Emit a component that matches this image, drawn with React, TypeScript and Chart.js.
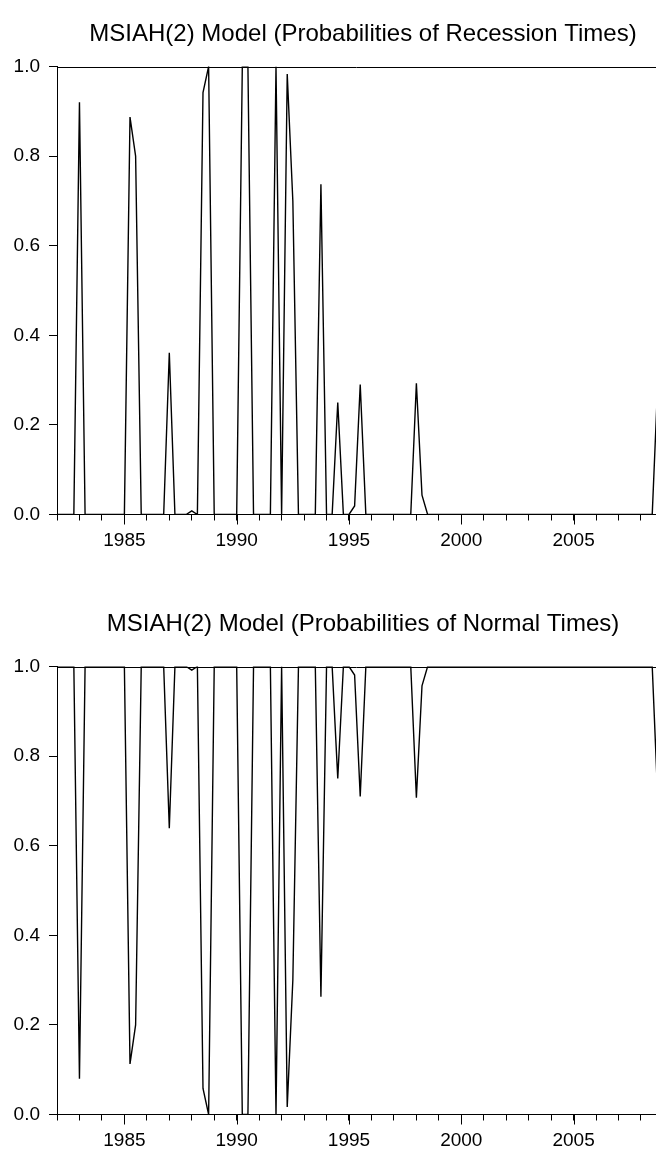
import React, { useEffect, useRef } from "react";
import { Chart, registerables } from "chart.js";

Chart.register(...registerables);

// ---------- data (quarterly, 1982Q1 .. 2008Q4) ----------
const START_YEAR = 1982;

const recessionProb: number[] = [
  0, 0, 0, 0, // 1982
  0.92, 0, 0, 0, // 1983
  0, 0, 0, 0, // 1984
  0, 0.887, 0.8, 0, // 1985
  0, 0, 0, 0, // 1986
  0.361, 0, 0, 0, // 1987
  0.008, 0, 0.942, 1.0, // 1988
  0, 0, 0, 0, // 1989
  0, 1.0, 1.0, 0, // 1990
  0, 0, 0, 1.0, // 1991
  0, 0.983, 0.7, 0, // 1992
  0, 0, 0, 0.737, // 1993
  0, 0, 0.25, 0, // 1994
  0, 0.019, 0.29, 0, // 1995
  0, 0, 0, 0, // 1996
  0, 0, 0, 0, // 1997
  0.293, 0.043, 0, 0, // 1998
  0, 0, 0, 0, // 1999
  0, 0, 0, 0, // 2000
  0, 0, 0, 0, // 2001
  0, 0, 0, 0, // 2002
  0, 0, 0, 0, // 2003
  0, 0, 0, 0, // 2004
  0, 0, 0, 0, // 2005
  0, 0, 0, 0, // 2006
  0, 0, 0, 0, // 2007
  0, 0, 0, 0.3, // 2008
];

const normalProb: number[] = [
  1, 1, 1, 1, // 1982
  0.08, 1, 1, 1, // 1983
  1, 1, 1, 1, // 1984
  1, 0.113, 0.2, 1, // 1985
  1, 1, 1, 1, // 1986
  0.639, 1, 1, 1, // 1987
  0.992, 1, 0.058, 0, // 1988
  1, 1, 1, 1, // 1989
  1, 0, 0, 1, // 1990
  1, 1, 1, 0, // 1991
  1, 0.017, 0.3, 1, // 1992
  1, 1, 1, 0.263, // 1993
  1, 1, 0.75, 1, // 1994
  1, 0.981, 0.71, 1, // 1995
  1, 1, 1, 1, // 1996
  1, 1, 1, 1, // 1997
  0.707, 0.957, 1, 1, // 1998
  1, 1, 1, 1, // 1999
  1, 1, 1, 1, // 2000
  1, 1, 1, 1, // 2001
  1, 1, 1, 1, // 2002
  1, 1, 1, 1, // 2003
  1, 1, 1, 1, // 2004
  1, 1, 1, 1, // 2005
  1, 1, 1, 1, // 2006
  1, 1, 1, 1, // 2007
  1, 1, 1, 0.7, // 2008
];

const xLabelYears: number[] = [1985, 1990, 1995, 2000, 2005];
const yTickStep = 0.2;
const X_MIN = 1982;
const X_MAX = 2008.668;

const TITLE_RECESSION = "MSIAH(2) Model (Probabilities of Recession Times)";
const TITLE_NORMAL = "MSIAH(2) Model (Probabilities of Normal Times)";

// ---------- style / layout ----------
const FONT_FAMILY = "'Liberation Sans', Arial, sans-serif";
const TICK_FONT = 19;
const TITLE_FONT = 24;
const PAGE_W = 656;
const PLOT_LEFT = 57;
const PLOT_TOP = 66.5;
const PLOT_BOTTOM = 514.5;
const TITLE_X = 363;

type PanelProps = { values: number[]; title: string; height: number; titleBaseline: number };

function Panel({ values, title, height, titleBaseline }: PanelProps) {
  const ref = useRef<HTMLCanvasElement | null>(null);

  useEffect(() => {
    const canvas = ref.current;
    if (!canvas) return;
    const points = values.map((v, i) => ({ x: START_YEAR + i / 4, y: v }));

    const framePlugin = {
      id: "eviewsFrame",
      afterDraw(chart: any) {
        const { ctx, chartArea } = chart;
        const xs = chart.scales.x;
        ctx.save();
        ctx.strokeStyle = "#000";
        ctx.lineWidth = 1;
        // top frame
        ctx.beginPath();
        ctx.moveTo(chartArea.left, Math.round(chartArea.top) + 0.5);
        ctx.lineTo(chartArea.right, Math.round(chartArea.top) + 0.5);
        ctx.stroke();
        // longer major ticks
        for (const t of xs.ticks) {
          if (xLabelYears.includes(t.value)) {
            const px = Math.round(xs.getPixelForValue(t.value)) + 0.5;
            ctx.beginPath();
            ctx.moveTo(px, chartArea.bottom);
            ctx.lineTo(px, chartArea.bottom + 10);
            ctx.stroke();
          }
        }
        // title
        ctx.fillStyle = "#000";
        ctx.font = `${TITLE_FONT}px ${FONT_FAMILY}`;
        ctx.textAlign = "center";
        ctx.textBaseline = "alphabetic";
        ctx.fillText(title, TITLE_X, titleBaseline);
        ctx.restore();
      },
    };

    const chart = new Chart(canvas, {
      type: "line",
      data: {
        datasets: [
          {
            data: points,
            borderColor: "#000",
            borderWidth: 1.4,
            pointRadius: 0,
            tension: 0,
            fill: false,
          },
        ],
      },
      options: {
        animation: false,
        responsive: false,
        maintainAspectRatio: false,
        layout: { padding: { top: PLOT_TOP, left: 0, right: 0, bottom: 0 } },
        plugins: {
          legend: { display: false },
          tooltip: { enabled: false },
          title: { display: false },
        },
        scales: {
          x: {
            type: "linear",
            min: X_MIN,
            max: X_MAX,
            afterFit(scale: any) {
              scale.height = height - PLOT_BOTTOM;
              scale.paddingLeft = 0;
              scale.paddingRight = 0;
            },
            ticks: {
              stepSize: 1,
              autoSkip: false,
              includeBounds: false,
              maxRotation: 0,
              minRotation: 0,
              padding: 9,
              color: "#000",
              font: { family: FONT_FAMILY, size: TICK_FONT },
              callback: (v: any) => (xLabelYears.includes(Number(v)) ? String(v) : ""),
            },
            grid: {
              display: true,
              drawOnChartArea: false,
              drawTicks: true,
              tickLength: 6,
              color: "#000",
              lineWidth: 1,
            },
            border: { display: true, color: "#000", width: 1 },
          },
          y: {
            type: "linear",
            min: 0,
            max: 1,
            afterFit(scale: any) {
              scale.width = PLOT_LEFT;
              scale.paddingTop = 0;
              scale.paddingBottom = 0;
            },
            ticks: {
              stepSize: yTickStep,
              padding: 9,
              color: "#000",
              font: { family: FONT_FAMILY, size: TICK_FONT },
              callback: (v: any) => Number(v).toFixed(1),
            },
            grid: {
              display: true,
              drawOnChartArea: false,
              drawTicks: true,
              tickLength: 8,
              color: "#000",
              lineWidth: 1,
            },
            border: { display: true, color: "#000", width: 1 },
          },
        },
      },
      plugins: [framePlugin],
    } as any);

    return () => chart.destroy();
  }, [values, title, height, titleBaseline]);

  return <canvas ref={ref} width={PAGE_W} height={height} style={{ display: "block", width: PAGE_W, height }} />;
}

export default function App() {
  return (
    <div
      style={{
        position: "absolute",
        left: 0,
        top: 0,
        width: PAGE_W,
        height: 1156,
        overflow: "hidden",
        background: "#fff",
      }}
    >
      <div style={{ position: "absolute", left: 0, top: 0 }}>
        <Panel values={recessionProb} title={TITLE_RECESSION} height={600} titleBaseline={41} />
      </div>
      <div style={{ position: "absolute", left: 0, top: 600 }}>
        <Panel values={normalProb} title={TITLE_NORMAL} height={556} titleBaseline={31} />
      </div>
    </div>
  );
}
